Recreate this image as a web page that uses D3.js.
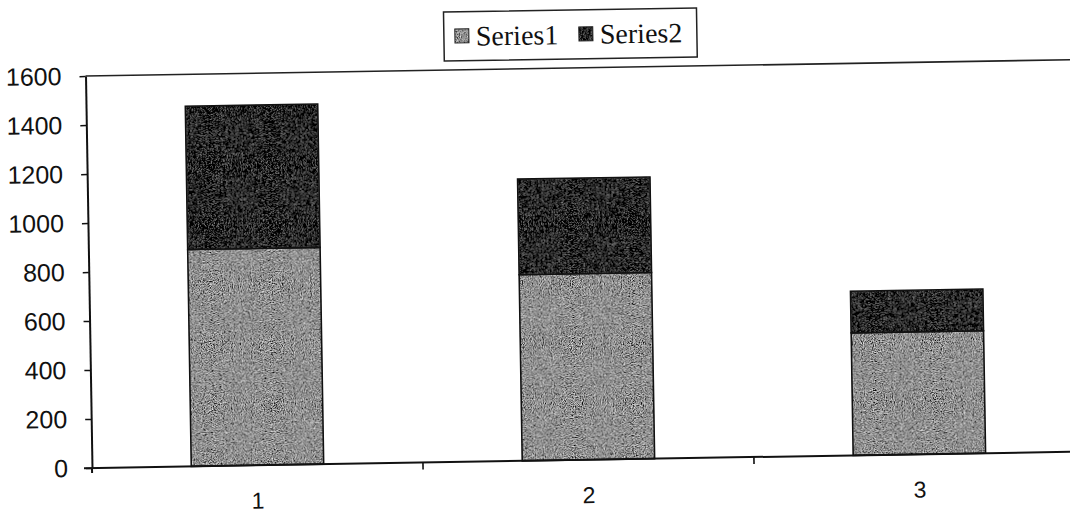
<!DOCTYPE html>
<html>
<head>
<meta charset="utf-8">
<script src="https://cdn.jsdelivr.net/npm/d3@7"></script>
<style>
  html, body { margin: 0; padding: 0; background: #fff; }
  svg { display: block; }
</style>
</head>
<body>
<svg id="chart" width="1070" height="514"></svg>
<script>
// Stacked column chart: two series over three categories
const categories = ["1", "2", "3"];
const series1 = [885, 760, 500];
const series2 = [585, 390, 170];
const seriesNames = ["Series1", "Series2"];
const yTickValues = [0, 200, 400, 600, 800, 1000, 1200, 1400, 1600];

const plot = { left: 92, top: 76, bottom: 468, right: 1085 };

const svg = d3.select("#chart");

// Stipple textures for the two fills
const defs = svg.append("defs");
function grain(id, amp, freq, seed) {
  const f = defs.append("filter").attr("id", id)
    .attr("x", 0).attr("y", 0).attr("width", 1).attr("height", 1);
  f.append("feTurbulence").attr("type", "fractalNoise")
    .attr("baseFrequency", freq).attr("numOctaves", 2).attr("seed", seed).attr("result", "noise");
  f.append("feColorMatrix").attr("in", "noise").attr("type", "matrix")
    .attr("values", "0.33 0.33 0.33 0 0  0.33 0.33 0.33 0 0  0.33 0.33 0.33 0 0  0 0 0 0 1")
    .attr("result", "gray");
  f.append("feComposite").attr("in", "gray").attr("in2", "SourceGraphic")
    .attr("operator", "arithmetic")
    .attr("k1", 0).attr("k2", amp).attr("k3", 1).attr("k4", -0.5 * amp)
    .attr("result", "mix");
  f.append("feComposite").attr("in", "mix").attr("in2", "SourceGraphic").attr("operator", "in");
}
grain("grainLight", 2.8, 0.9, 7);
grain("grainDark", 1.1, 1.2, 11);

const fills = ["#929292", "#0a0a0a"];
const filters = ["url(#grainLight)", "url(#grainDark)"];

// The whole figure sits slightly tilted on the page
const g = svg.append("g").attr("transform", `rotate(-0.95, ${plot.left}, ${plot.bottom})`);

const x = d3.scaleBand()
  .domain(categories)
  .range([plot.left, plot.right])
  .paddingInner(0.6)
  .paddingOuter(0.3);

const y = d3.scaleLinear()
  .domain([0, 1600])
  .range([plot.bottom, plot.top]);

const rows = categories.map((c, i) => ({ cat: c, Series1: series1[i], Series2: series2[i] }));
const stacked = d3.stack().keys(seriesNames)(rows);

// Plot area frame (top edge)
g.append("line")
  .attr("x1", plot.left).attr("x2", plot.right + 20)
  .attr("y1", y(1600)).attr("y2", y(1600))
  .attr("stroke", "#222").attr("stroke-width", 1.6);

// Bars
stacked.forEach((layer, si) => {
  const lg = g.append("g");
  lg.selectAll("rect.fill").data(layer).join("rect")
    .attr("class", "fill")
    .attr("x", d => x(d.data.cat))
    .attr("width", x.bandwidth())
    .attr("y", d => y(d[1]))
    .attr("height", d => y(d[0]) - y(d[1]))
    .attr("fill", fills[si])
    .attr("filter", filters[si]);
  lg.selectAll("rect.edge").data(layer).join("rect")
    .attr("class", "edge")
    .attr("x", d => x(d.data.cat))
    .attr("width", x.bandwidth())
    .attr("y", d => y(d[1]))
    .attr("height", d => y(d[0]) - y(d[1]))
    .attr("fill", "none")
    .attr("stroke", "#111")
    .attr("stroke-width", 1.6);
});

// Y axis
const yAxis = g.append("g")
  .attr("transform", `translate(${plot.left},0)`)
  .call(d3.axisLeft(y).tickValues(yTickValues).tickFormat(d3.format("d"))
    .tickSize(6).tickPadding(18).tickSizeOuter(0));
yAxis.select(".domain").attr("stroke", "#111").attr("stroke-width", 2);
yAxis.selectAll(".tick line").attr("stroke", "#111").attr("stroke-width", 1.5);
yAxis.selectAll(".tick text")
  .attr("font-family", "'Liberation Sans', Arial, sans-serif")
  .attr("font-size", 25)
  .attr("fill", "#111");

// X axis with category labels
const xAxis = g.append("g")
  .attr("transform", `translate(0,${plot.bottom})`)
  .call(d3.axisBottom(x).tickSize(0).tickPadding(27).tickSizeOuter(0));
xAxis.select(".domain").attr("stroke", "#111").attr("stroke-width", 2)
  .attr("d", `M${plot.left - 8},0H${plot.right + 20}`);
xAxis.selectAll(".tick text")
  .attr("font-family", "'Liberation Sans', Arial, sans-serif")
  .attr("font-size", 23)
  .attr("fill", "#111");

// Category boundary ticks
const step = x.step();
const boundaries = categories.map(c => x(c) + x.bandwidth() + (step - x.bandwidth()) / 2);
g.selectAll("line.cat-tick").data(boundaries).join("line")
  .attr("class", "cat-tick")
  .attr("x1", d => d).attr("x2", d => d)
  .attr("y1", plot.bottom).attr("y2", plot.bottom + 7)
  .attr("stroke", "#111").attr("stroke-width", 1.6);
g.append("line")
  .attr("x1", plot.left).attr("x2", plot.left)
  .attr("y1", plot.bottom).attr("y2", plot.bottom + 5)
  .attr("stroke", "#111").attr("stroke-width", 2);

// Legend
const legend = g.append("g").attr("transform", "translate(451,18)");
legend.append("rect")
  .attr("width", 253).attr("height", 49)
  .attr("fill", "#fff").attr("stroke", "#222").attr("stroke-width", 1.5);
const itemX = [11, 135];
seriesNames.forEach((name, i) => {
  const it = legend.append("g").attr("transform", `translate(${itemX[i]},17)`);
  it.append("rect").attr("width", 14).attr("height", 14)
    .attr("fill", fills[i]).attr("filter", filters[i]);
  it.append("rect").attr("width", 14).attr("height", 14)
    .attr("fill", "none").attr("stroke", "#222").attr("stroke-width", 1);
  it.append("text")
    .attr("x", 21).attr("y", 17)
    .attr("font-family", "'Liberation Serif', 'Times New Roman', serif")
    .attr("font-size", 28)
    .attr("fill", "#111")
    .text(name);
});
</script>
</body>
</html>
